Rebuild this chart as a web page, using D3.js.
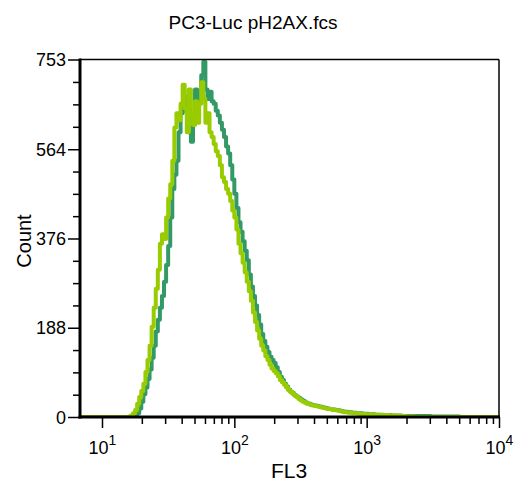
<!DOCTYPE html>
<html><head><meta charset="utf-8">
<script src="https://cdn.jsdelivr.net/npm/d3@7"></script>
<style>
html,body{margin:0;padding:0;background:#fff;}
svg{display:block;font-family:"Liberation Sans",Arial,Helvetica,sans-serif;}
</style></head>
<body>
<svg id="chart" width="517" height="483"></svg>
<script>
// ---- data ----
const title = "PC3-Luc pH2AX.fcs";
const xLabel = "FL3";
const yLabel = "Count";
const yTicks = [0, 188, 376, 564, 753];
const xTickExponents = [1, 2, 3, 4];
const channelStart = 53;          // first histogram channel shown
const channelsPerDecade = 64;     // log channel resolution
const seriesNames = ["Sample A", "Sample B"];
const seriesColors = ["#339966", "#99cc00"];

const countsDark = [
  0,0,0,0,0,0,0,0,0,0,0,0,0,0,0,0,0,0,0,0,0,0,0,0,0,0,
  1,3,8,18,32,48,62,80,100,125,150,180,205,230,255,285,320,360,420,480,
  510,540,600,640,655,675,640,600,580,640,690,665,680,720,748,690,670,685,665,660,
  645,635,620,605,590,570,555,530,500,470,440,410,390,370,350,330,300,275,255,235,
  215,195,175,160,148,137,127,120,114,105,95,85,78,70,64,58,53,50,46,43,
  40,37,34,31,29,28,26,25,24,23,22,21,20,19,18,17,16,16,15,14,
  13,12,11,11,10,10,9,9,8,8,8,7,7,7,6,6,6,5,5,5,
  5,4,4,4,4,3,3,3,3,3,
  2,2,2,2,2,2,2,2,2,2,2,2,2,2,
  1,1,1,1,1,1,1,1,1,1,1,1,1,1,
  0,0,0,0,0,0,0,0,0,0,0,0,0,0,0,0,0,0,0
];

const countsLight = [
  0,0,0,0,0,0,0,0,0,0,0,0,0,0,0,0,0,0,0,0,0,0,0,0,
  1,3,8,15,28,42,55,70,95,120,150,190,230,270,310,365,385,375,420,460,
  490,540,610,640,625,660,700,650,600,690,640,615,665,620,660,705,670,620,640,600,
  590,575,560,550,530,505,495,480,470,455,435,420,395,365,345,325,305,285,265,245,
  220,200,182,165,150,140,128,120,110,102,97,92,86,78,73,68,62,57,53,49,
  45,42,38,35,32,30,28,27,25,24,23,22,21,20,19,18,17,17,16,15,
  14,13,12,11,10,10,9,9,8,8,8,7,7,7,6,6,6,5,5,5,
  5,4,4,4,4,4,3,3,3,3,2,2,2,2,1,
  1,1,1,
  0,0,0,0,0,0,0,0,0,0,0,0,0,0,0,0,0,0,0,0,0,0,0,0,0,0,0,0,0,0,0,0,0,0,0,0,0,0,0,0,0
];

const series = [countsDark, countsLight];

// ---- layout ----
const svg = d3.select("#chart");
const pLeft = 80, pRight = 499, pTop = 59.5, pBottom = 417;

const x = d3.scaleLog().domain([10, 10000]).range([102, pRight]);
const y = d3.scaleLinear().domain([0, 753]).range([pBottom, pTop]);

const chanValue = c => Math.pow(10, c / channelsPerDecade);

svg.append("defs").append("clipPath").attr("id", "clip")
  .append("rect").attr("x", pLeft).attr("y", pTop - 3).attr("width", pRight - pLeft).attr("height", pBottom - pTop + 3);

// curves
const line = d3.line().x(d => x(d[0])).y(d => y(d[1])).curve(d3.curveStepAfter);
const g = svg.append("g").attr("clip-path", "url(#clip)");
series.forEach((counts, i) => {
  const pts = counts.map((v, k) => [chanValue(channelStart + k), v]);
  pts.push([chanValue(channelStart + counts.length), counts[counts.length - 1]]);
  g.append("path").attr("d", line(pts))
    .attr("fill", "none").attr("stroke", seriesColors[i])
    .attr("stroke-width", 4).attr("stroke-linejoin", "round");
});

// frame (thin top/right)
svg.append("line").attr("x1", pLeft).attr("x2", pRight).attr("y1", pTop).attr("y2", pTop)
  .attr("stroke", "#000").attr("stroke-width", 1.5);
svg.append("line").attr("x1", pRight).attr("x2", pRight).attr("y1", pTop).attr("y2", pBottom)
  .attr("stroke", "#000").attr("stroke-width", 1.5);

// y axis
const yMinor = [];
for (let i = 0; i < yTicks.length - 1; i++) {
  for (let k = 1; k < 4; k++) yMinor.push(yTicks[i] + (yTicks[i + 1] - yTicks[i]) * k / 4);
}
const yAxisMajor = d3.axisLeft(y).tickValues(yTicks).tickSize(12).tickPadding(2).tickFormat(d3.format("d"));
const ya = svg.append("g").attr("transform", `translate(${pLeft},0)`).call(yAxisMajor);
ya.select(".domain").remove();
ya.selectAll(".tick line").attr("stroke", "#000").attr("stroke-width", 1.5);
ya.selectAll(".tick text").attr("font-size", 18).attr("fill", "#000")
  .attr("font-family", "Liberation Sans, Arial, sans-serif").attr("dy", "0.34em");
const yaMinor = svg.append("g").attr("transform", `translate(${pLeft},0)`)
  .call(d3.axisLeft(y).tickValues(yMinor).tickSize(7).tickFormat(""));
yaMinor.select(".domain").remove();
yaMinor.selectAll(".tick line").attr("stroke", "#000").attr("stroke-width", 1.5);
svg.append("line").attr("x1", pLeft).attr("x2", pLeft).attr("y1", pTop - 1).attr("y2", pBottom + 1.5)
  .attr("stroke", "#000").attr("stroke-width", 3);

// x axis
const xMajor = xTickExponents.map(e => Math.pow(10, e));
const xMinor = [];
xTickExponents.slice(0, -1).forEach(e => { for (let m = 2; m <= 9; m++) xMinor.push(m * Math.pow(10, e)); });
const xaMinor = svg.append("g").attr("transform", `translate(0,${pBottom})`)
  .call(d3.axisBottom(x).tickValues(xMinor).tickSize(7).tickFormat(""));
xaMinor.select(".domain").remove();
xaMinor.selectAll(".tick line").attr("stroke", "#000").attr("stroke-width", 1.5);
const xa = svg.append("g").attr("transform", `translate(0,${pBottom})`)
  .call(d3.axisBottom(x).tickValues(xMajor).tickSize(11).tickFormat(""));
xa.select(".domain").remove();
xa.selectAll(".tick line").attr("stroke", "#000").attr("stroke-width", 1.5);
xa.selectAll(".tick").each(function (d, i) {
  const t = d3.select(this).append("text").attr("y", 37).attr("text-anchor", "middle")
    .attr("fill", "#000").attr("font-size", 18);
  t.append("tspan").text("10");
  t.append("tspan").attr("dy", -9).attr("font-size", 14).text(xTickExponents[i]);
});
svg.append("line").attr("x1", pLeft - 1.5).attr("x2", pRight + 1).attr("y1", pBottom).attr("y2", pBottom)
  .attr("stroke", "#000").attr("stroke-width", 3);

// labels
svg.append("text").attr("x", 253).attr("y", 29).attr("text-anchor", "middle")
  .attr("font-size", 19).attr("fill", "#000").text(title);
svg.append("text").attr("x", 289).attr("y", 478).attr("text-anchor", "middle")
  .attr("font-size", 21).attr("fill", "#000").text(xLabel);
svg.append("text").attr("transform", "translate(31,241) rotate(-90)").attr("text-anchor", "middle")
  .attr("font-size", 20).attr("fill", "#000").text(yLabel);
</script>
</body></html>
